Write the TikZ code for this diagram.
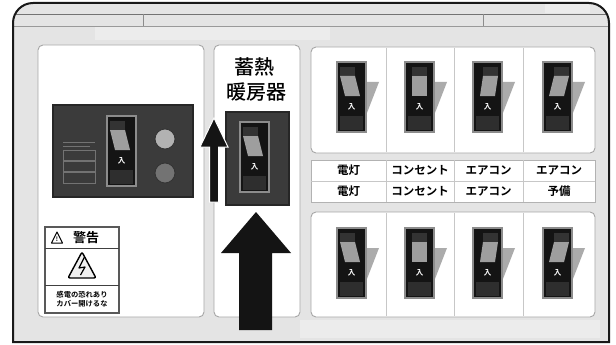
\documentclass[tikz,border=0pt]{standalone}
\usepackage{fontspec}
\newfontfamily\jp{Noto Sans CJK JP}
\newfontfamily\jpm{Noto Sans CJK JP Medium}
\newfontfamily\jpb{Noto Sans CJK JP Bold}
\definecolor{bgpanel}{HTML}{E4E4E4}
\definecolor{bglight}{HTML}{ECECEC}
\definecolor{boxdark}{HTML}{3B3B3B}
\definecolor{paddle}{HTML}{9E9E9E}
% one rocker switch: #1,#2 top-left corner, #3 paddle top-left offset,
% #4 paddle bottom-left offset, #5 draw side shadow (1/0), #6 node name
\newcommand\rockersw[6]{%
  \begin{scope}[shift={(#1,#2)}]
    \ifnum#5=1 \fill[wedge] (28,20) -- (42,20) -- (28,56) -- cycle; \fi
    \draw[swbody] (0,0) rectangle (29,70);
    \fill[swlow] (3,54) rectangle (26,68);
    \fill[swcap] (#3,5) -- (#3+15,5) -- (#3+15,14) -- (#3,14) -- cycle;
    \fill[paddle] (#3,14) -- (#3+15,14) -- (#4+15,34) -- (#4,34) -- cycle;
    \node[swtext] (#6) at (14.5,45) {入};
  \end{scope}}
\tikzset{
  swbody/.style={fill=black!92, draw=black!45, line width=1.2pt},
  swlow/.style={fill=black!82},
  swcap/.style={fill=black!80},
  wedge/.style={fill=black!33},
  swtext/.style={text=white, font=\jpb\fontsize{7.5}{8}\selectfont, inner sep=0pt},
  panel/.style={fill=white, draw=black!35, line width=0.9pt, rounded corners=5pt},
  divider/.style={draw=black!22, line width=0.8pt},
  darkbox/.style={fill=boxdark, draw=black!85, line width=1.5pt},
  tablab/.style={font=\jpb\fontsize{11.5}{12}\selectfont, inner sep=0pt},
  title/.style={font=\jpm\fontsize{20}{22}\selectfont, inner sep=0pt},
  bigarrow/.style={fill=black!92, draw=white, line width=1pt},
  cabinet/.style={line width=2pt}
}
\begin{document}
\begin{tikzpicture}[x=1pt,y=-1pt]
  \useasboundingbox (0,0) rectangle (616,345);
  \fill[white] (0,0) rectangle (616,345);

  % cabinet body (y axis points down, so angle 270 is up)
  \fill[bgpanel] (13,342) -- (13,23) arc[start angle=180, end angle=270, radius=20]
    -- (589,3) arc[start angle=270, end angle=360, radius=20] -- (609,342) -- cycle;
  \fill[bglight] (95,27) rectangle (330,40);
  \fill[bglight] (300,320) rectangle (600,338);
  \fill[bglight] (545,4) rectangle (590,13);
  \draw[black!55, line width=0.8pt] (14,14) -- (608,14);
  \draw[black!40, line width=0.8pt] (14,26) -- (608,26);
  \draw[black!45, line width=0.8pt] (143,14) -- (143,26) (483,14) -- (483,26);
  \draw[black!90, cabinet] (13,342) -- (13,23) arc[start angle=180, end angle=270, radius=20]
    -- (589,3) arc[start angle=270, end angle=360, radius=20] -- (609,342) -- cycle;

  % panels
  \draw[panel] (38,45) rectangle (204,317);
  \draw[panel] (214,45) rectangle (300,317);
  \draw[panel] (311,47) rectangle (595,153);
  \draw[panel] (311,212) rectangle (595,317);
  \foreach \xx in {386,454,523} {
    \draw[divider] (\xx,48) -- (\xx,152);
    \draw[divider] (\xx,213) -- (\xx,316);
  }

  % circuit labels
  \draw[fill=white, draw=black!30, line width=0.9pt] (311,160) rectangle (595,202);
  \draw[divider] (311,181) -- (595,181);
  \foreach \xx in {386,454,523} \draw[divider] (\xx,160) -- (\xx,202);
  \node[tablab] (la1) at (348.5,170.5) {電灯};
  \node[tablab] (la2) at (420,170.5) {コンセント};
  \node[tablab] (la3) at (488.5,170.5) {エアコン};
  \node[tablab] (la4) at (559,170.5) {エアコン};
  \node[tablab] (lb1) at (348.5,191.5) {電灯};
  \node[tablab] (lb2) at (420,191.5) {コンセント};
  \node[tablab] (lb3) at (488.5,191.5) {エアコン};
  \node[tablab] (lb4) at (559,191.5) {予備};

  % branch breakers
  \rockersw{337}{62}{3}{8}{1}{sa1}
  \rockersw{405}{62}{7}{7}{1}{sa2}
  \rockersw{473}{62}{10}{7}{1}{sa3}
  \rockersw{543}{62}{11}{6}{1}{sa4}
  \rockersw{337}{228}{3}{8}{1}{sb1}
  \rockersw{405}{228}{7}{7}{1}{sb2}
  \rockersw{473}{228}{10}{7}{1}{sb3}
  \rockersw{543}{228}{11}{6}{1}{sb4}

  % main breaker
  \draw[darkbox] (53,105) rectangle (193,197);
  \draw[black!55, line width=0.6pt] (63,142) -- (95,142) (63,146) -- (90,146);
  \draw[black!55, line width=0.6pt] (63,150) rectangle (95,160) (63,161) rectangle (95,171) (63,172) rectangle (95,183);
  \rockersw{107}{116}{3}{8}{0}{smain}
  \fill[black!30, draw=black!80, line width=0.8pt] (165,139) circle[radius=10];
  \fill[black!55, draw=black!80, line width=0.8pt] (165,173) circle[radius=10];

  % warning label
  \draw[fill=white, draw=black!65, line width=1.3pt] (45,227) rectangle (119,313);
  \draw[black!75, line width=1pt] (45,248) -- (119,248) (45,285) -- (119,285);
  \draw[line width=1pt, line join=round] (57,232) -- (62.5,243) -- (51.5,243) -- cycle;
  \node[inner sep=0pt, font=\jpb\fontsize{6}{6}\selectfont] (wex) at (57,239) {!};
  \node[inner sep=0pt, font=\jpb\fontsize{13}{13}\selectfont] (wtitle) at (86,238) {警告};
  \draw[line width=1.4pt, rounded corners=2pt, fill=black!6] (82,252) -- (96,278) -- (68,278) -- cycle;
  \draw[line width=1.2pt, line join=round] (84.5,257) -- (79,268) -- (85,267) -- (80.5,275);
  \node[inner sep=0pt, align=center, font=\jpb\fontsize{7.3}{9}\selectfont] (wtext) at (82,299)
    {感電の恐れあり\\カバー開けるな};

  % storage heater breaker
  \node[title] (t1) at (254,67) {蓄熱};
  \node[title] (t2) at (256,92) {暖房器};
  \draw[darkbox] (226,112) rectangle (289,205);
  \rockersw{240}{122}{3}{8}{0}{sheat}

  % arrows
  \draw[bigarrow] (209.5,202) -- (209.5,147) -- (200,147) -- (214,118) -- (228,147)
    -- (218.5,147) -- (218.5,202) -- cycle;
  \fill[black!92] (239,330) -- (239,253) -- (221,253) -- (256,212) -- (291,253)
    -- (272,253) -- (272,330) -- cycle;
\end{tikzpicture}
\end{document}
